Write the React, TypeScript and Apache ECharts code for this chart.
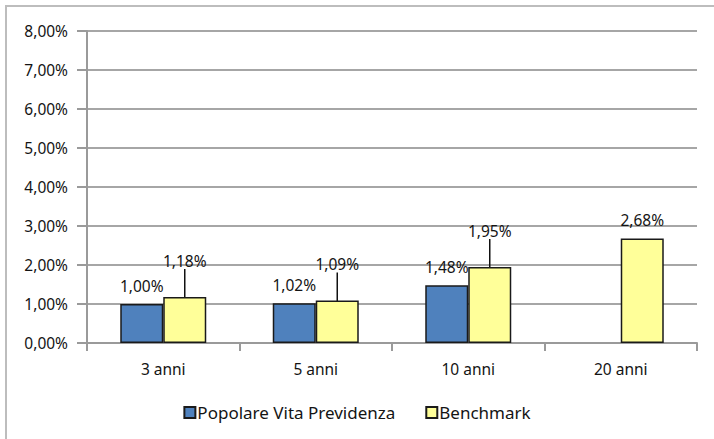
import React, { useEffect, useRef } from "react";
import * as echarts from "echarts";

const categories = ["3 anni", "5 anni", "10 anni", "20 anni"];
const fundName = "Popolare Vita Previdenza";
const benchName = "Benchmark";
const fundValues: (number | null)[] = [1.0, 1.02, 1.48, null];
const benchValues: number[] = [1.18, 1.09, 1.95, 2.68];
const movedBenchLabels: boolean[] = [true, true, true, false];

const fmt = (v: number) => v.toFixed(2).replace(".", ",") + "%";
const FONT = "Noto Sans";
const FS = 15.5;
const TXT = "#141414";

export default function App() {
  const ref = useRef<HTMLDivElement>(null);
  useEffect(() => {
    if (!ref.current) return;
    const chart = echarts.init(ref.current, null, { renderer: "svg" });
    chart.setOption({
      animation: false,
      backgroundColor: "#ffffff",
      textStyle: { fontFamily: FONT },
      grid: { left: 87, right: 17, top: 31, bottom: 96, containLabel: false },
      graphic: [
        {
          type: "rect",
          shape: { x: 6, y: 6, width: 760, height: 480 },
          style: { fill: "none", stroke: "#bdbdbd", lineWidth: 2 },
          silent: true,
        },
      ],
      legend: {
        bottom: 13,
        left: "center",
        itemWidth: 11,
        itemHeight: 11,
        itemGap: 30,
        icon: "rect",
        textStyle: { fontFamily: FONT, fontSize: 17, color: TXT, padding: [0, 0, 0, -3] },
        data: [fundName, benchName],
      },
      xAxis: {
        type: "category",
        data: categories,
        boundaryGap: true,
        axisLine: { lineStyle: { color: "#9a9a9a", width: 2 } },
        axisTick: { show: true, length: 8, lineStyle: { color: "#9a9a9a", width: 2 } },
        axisLabel: { fontFamily: FONT, fontSize: FS, color: TXT, margin: 18 },
      },
      yAxis: {
        type: "value",
        min: 0,
        max: 8,
        interval: 1,
        axisLine: { show: true, lineStyle: { color: "#9a9a9a", width: 2 } },
        axisTick: { show: true, length: 10, lineStyle: { color: "#9a9a9a", width: 2 } },
        splitLine: { lineStyle: { color: "#a6a6a6", width: 2 } },
        axisLabel: {
          fontFamily: FONT,
          fontSize: FS,
          color: TXT,
          margin: 19,
          formatter: (v: number) => fmt(v),
        },
      },
      series: [
        {
          name: fundName,
          type: "bar",
          barWidth: 43,
          barGap: "0%",
          data: fundValues,
          itemStyle: { color: "#4f81bd", borderColor: "#1a1a1a", borderWidth: 1.5 },
          label: {
            show: true,
            position: "top",
            distance: 10,
            fontFamily: FONT,
            fontSize: FS,
            color: TXT,
            formatter: (p: any) => fmt(p.value),
          },
        },
        {
          name: benchName,
          type: "bar",
          barWidth: 43,
          barGap: "0%",
          data: benchValues.map((v, i) => ({
            value: v,
            labelLine: { show: movedBenchLabels[i] },
          })),
          itemStyle: { color: "#ffff99", borderColor: "#1a1a1a", borderWidth: 1.5 },
          label: {
            show: true,
            position: "top",
            distance: 10,
            fontFamily: FONT,
            fontSize: FS,
            color: TXT,
            formatter: (p: any) => fmt(p.value),
          },
          labelLine: { show: true, lineStyle: { color: "#111", width: 1.5 } },
          labelLayout: (p: any) => (movedBenchLabels[p.dataIndex] ? { dy: -18 } : {}),
        },
      ],
    });
    return () => chart.dispose();
  }, []);
  return (
    <div
      ref={ref}
      style={{ position: "absolute", left: 0, top: 0, width: 714, height: 439 }}
    />
  );
}
